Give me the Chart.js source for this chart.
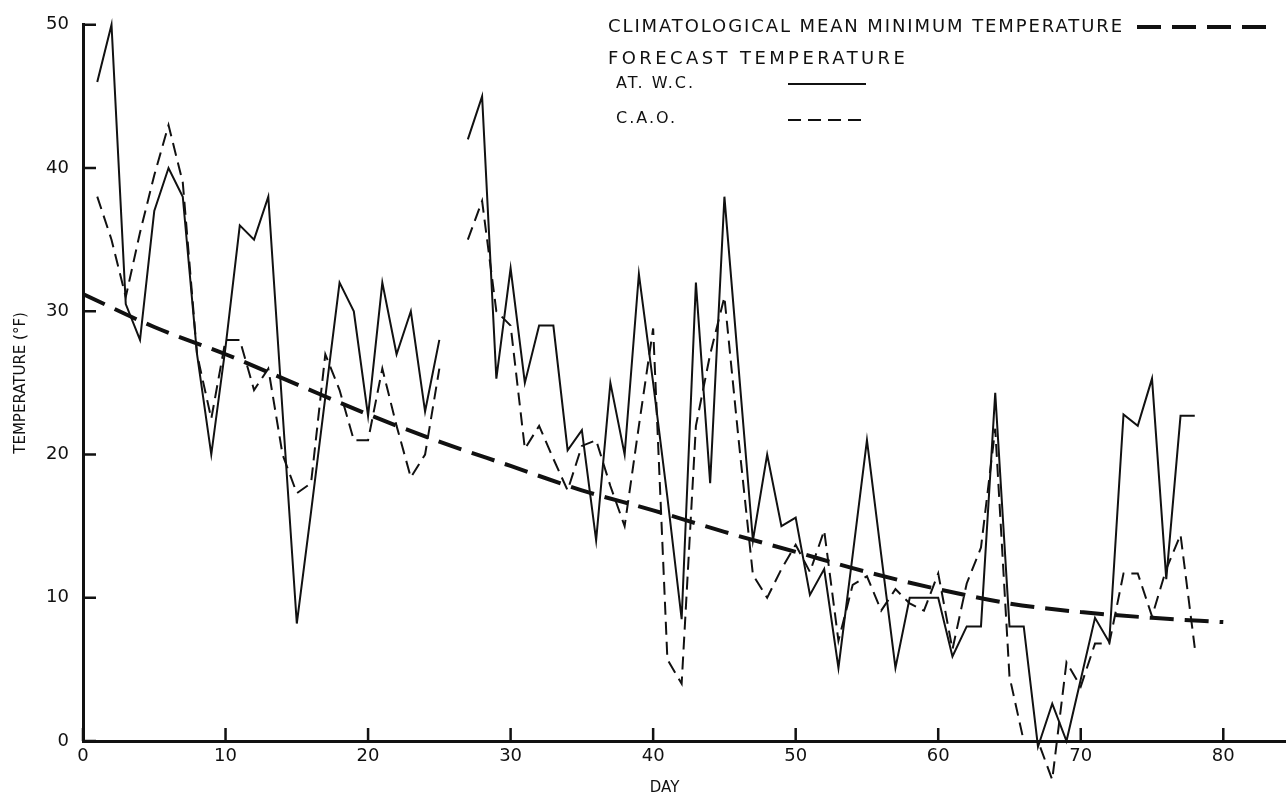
<!DOCTYPE html>
<html>
<head>
<meta charset="utf-8">
<script src="https://cdn.jsdelivr.net/npm/chart.js@4.4.0/dist/chart.umd.min.js"></script>
<style>
  html, body { margin: 0; background: #fff; }
  #wrap { width: 1286px; height: 800px; position: relative; }
</style>
</head>
<body>
<div id="wrap"><canvas id="myChart"></canvas></div>
<script>
// forecast days (day 26 has no forecast)
const days = [1, 2, 3, 4, 5, 6, 7, 8, 9, 10, 11, 12, 13, 14, 15, 16, 17, 18, 19, 20,
  21, 22, 23, 24, 25, 26, 27, 28, 29, 30, 31, 32, 33, 34, 35, 36, 37, 38, 39, 40,
  41, 42, 43, 44, 45, 46, 47, 48, 49, 50, 51, 52, 53, 54, 55, 56, 57, 58, 59, 60,
  61, 62, 63, 64, 65, 66, 67, 68, 69, 70, 71, 72, 73, 74, 75, 76, 77, 78];

// AT. W.C. forecast (solid)
const atwcTemps = [46, 50, 30.5, 28, 37, 40, 38, 27, 20, 27.5, 36, 35, 38, 23, 8.2, 16, 24, 32, 30, 22.7,
  32, 27, 30, 23, 28, null, 42, 45, 25.3, 33, 25, 29, 29, 20.3, 21.7, 14, 25, 20, 32.6, 25,
  17, 8.5, 32, 18, 38, 26, 14, 20, 15, 15.6, 10.2, 12, 5.1, 13, 21, 13, 5.1, 10, 10, 10,
  5.9, 8, 8, 24.3, 8, 8, -0.4, 2.6, 0, 4.3, 8.6, 6.9, 22.8, 22, 25.3, 11.3, 22.7, 22.7];

// C.A.O. forecast (dashed)
const caoTemps = [38, 35, 31, 35.5, 39.5, 43, 39, 27, 22.5, 28, 28, 24.5, 26, 20, 17.3, 18, 27, 24.5, 21, 21,
  26, 22, 18.4, 20, 26, null, 35, 37.7, 30, 29, 20.4, 22, 19.7, 17.5, 20.6, 21, 17.8, 15, 22, 28.8,
  5.7, 4, 22, 27, 31, 21, 11.6, 10, 12, 13.7, 11.8, 14.7, 7, 10.9, 11.5, 9.1, 10.6, 9.6, 9.1, 11.7,
  6.4, 11, 13.5, 21.8, 4.5, 0, 0, -2.7, 5.5, 3.8, 6.8, 6.8, 11.7, 11.7, 8.7, 12, 14.4, 6.5];

// climatological mean minimum temperature
const meanDays = [0, 5, 10, 15, 20, 25, 30, 35, 40, 45, 50, 55, 60, 65, 70, 75, 80];
const meanTemps = [31.2, 28.9, 27, 24.9, 22.8, 20.9, 19.2, 17.5, 16.1, 14.6, 13.2, 11.8, 10.6, 9.6, 9.0, 8.6, 8.3];

const xTicks = [0, 10, 20, 30, 40, 50, 60, 70, 80];
const yTicks = [0, 10, 20, 30, 40, 50];

const ink = '#111';
const toPoints = (xs, ys) => xs.map((d, i) => ({ x: d, y: ys[i] }));

// inward tick marks, x title and the hand-lettered legend
const annotate = {
  id: 'annotate',
  afterDraw(chart) {
    const { ctx, chartArea, scales: { x, y } } = chart;
    ctx.save();
    ctx.strokeStyle = ink;
    ctx.lineWidth = 2.5;
    ctx.beginPath();
    yTicks.forEach(v => {
      const py = y.getPixelForValue(v);
      ctx.moveTo(chartArea.left, py);
      ctx.lineTo(chartArea.left + 13, py);
    });
    xTicks.forEach(v => {
      const px = x.getPixelForValue(v);
      ctx.moveTo(px, chartArea.bottom);
      ctx.lineTo(px, chartArea.bottom - 13);
    });
    ctx.stroke();

    ctx.fillStyle = ink;
    ctx.textBaseline = 'middle';
    ctx.textAlign = 'center';
    ctx.font = '15px "DejaVu Sans"';
    ctx.fillText('DAY', x.getPixelForValue(40.8), 788);

    ctx.textAlign = 'left';
    ctx.font = '18px "DejaVu Sans"';
    ctx.letterSpacing = '1.9px';
    ctx.fillText('CLIMATOLOGICAL MEAN MINIMUM TEMPERATURE', 608, 27);
    ctx.letterSpacing = '3.4px';
    ctx.fillText('FORECAST TEMPERATURE', 608, 59);
    ctx.font = '16px "DejaVu Sans"';
    ctx.letterSpacing = '2px';
    ctx.fillText('AT. W.C.', 616, 84);
    ctx.fillText('C.A.O.', 616, 119);

    ctx.lineWidth = 4;
    ctx.setLineDash([24, 11]);
    ctx.beginPath(); ctx.moveTo(1137, 27); ctx.lineTo(1272, 27); ctx.stroke();
    ctx.lineWidth = 2;
    ctx.setLineDash([]);
    ctx.beginPath(); ctx.moveTo(788, 84); ctx.lineTo(866, 84); ctx.stroke();
    ctx.setLineDash([13, 7]);
    ctx.beginPath(); ctx.moveTo(788, 120); ctx.lineTo(866, 120); ctx.stroke();
    ctx.restore();
  }
};

const ctx = document.getElementById('myChart').getContext('2d');
const myChart = new Chart(ctx, {
  type: 'line',
  data: {
    datasets: [
      {
        label: 'Climatological mean minimum temperature',
        data: toPoints(meanDays, meanTemps),
        borderColor: ink,
        borderWidth: 4,
        borderDash: [24, 11],
        cubicInterpolationMode: 'monotone',
        pointRadius: 0
      },
      {
        label: 'AT. W.C.',
        data: toPoints(days, atwcTemps),
        borderColor: ink,
        borderWidth: 2,
        pointRadius: 0,
        spanGaps: false,
        clip: false
      },
      {
        label: 'C.A.O.',
        data: toPoints(days, caoTemps),
        borderColor: ink,
        borderWidth: 2,
        borderDash: [13, 7],
        pointRadius: 0,
        spanGaps: false,
        clip: false
      }
    ]
  },
  options: {
    responsive: true,
    maintainAspectRatio: false,
    animation: false,
    layout: { padding: { top: 19, right: 0, bottom: 0, left: 0 } },
    plugins: {
      legend: { display: false },
      tooltip: { enabled: false }
    },
    scales: {
      x: {
        type: 'linear',
        min: 0,
        max: 84.4,
        afterFit: s => { s.height = 59; },
        border: { display: true, width: 3, color: ink },
        grid: { display: false, drawTicks: false },
        ticks: {
          stepSize: 10,
          includeBounds: false,
          padding: 5,
          color: ink,
          font: { family: 'DejaVu Sans', size: 18 },
          maxRotation: 0
        }
      },
      y: {
        min: 0,
        max: 50,
        afterFit: s => { s.width = 83; },
        border: { display: true, width: 3, color: ink },
        grid: { display: false, drawTicks: false },
        ticks: {
          stepSize: 10,
          padding: 14,
          color: ink,
          font: { family: 'DejaVu Sans', size: 18 }
        },
        title: {
          display: true,
          text: 'TEMPERATURE (°F)',
          color: ink,
          font: { family: 'DejaVu Sans', size: 15 },
          padding: { top: 12, bottom: 0 }
        }
      }
    }
  },
  plugins: [annotate]
});
</script>
</body>
</html>
